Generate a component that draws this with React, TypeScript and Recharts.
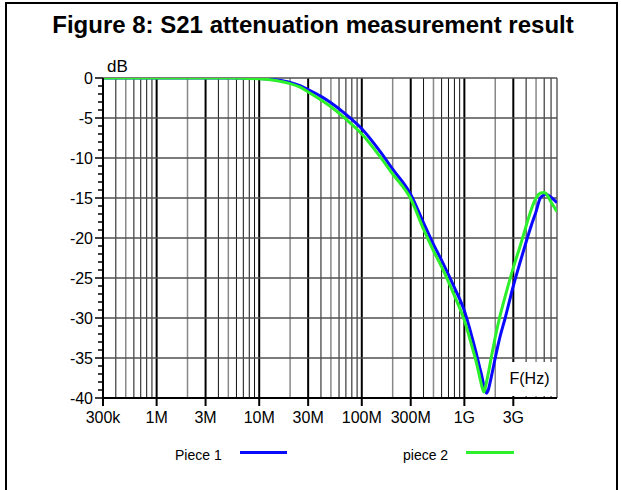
import React from "react";
import { CartesianGrid, Line, LineChart, XAxis, YAxis } from "recharts";

const FREQ = [
  3e5, 1e6, 3e6, 5e6, 1e7, 1.5e7, 2e7, 2.5e7, 3e7, 4e7, 5e7, 7e7, 1e8, 1.5e8, 2e8, 3e8, 4e8, 5e8,
  6e8, 8e8, 1e9, 1.2e9, 1.3e9, 1.4e9, 1.5e9, 1.55e9, 1.6e9, 1.65e9, 1.7e9, 1.8e9, 2e9, 2.2e9,
  2.5e9, 3e9, 3.5e9, 4e9, 4.5e9, 5e9, 5.5e9, 6e9, 6.2e9, 7e9, 8e9,
];
// S21 (dB), "Piece 1" (blue)
const PIECE1 = [
  0, 0, 0, 0, -0.05, -0.25, -0.55, -0.95, -1.45, -2.3, -3.1, -4.55, -6.35, -9.15, -11.4, -14.55,
  -18.1, -20.8, -22.8, -26.2, -29.1, -32.6, -34.3, -36.0, -37.6, -38.5, -39.1, -39.4, -39.1,
  -37.8, -35.0, -32.6, -30.0, -26.0, -23.0, -20.5, -18.4, -16.7, -15.0, -14.6, -14.5, -14.9, -15.6,
];
// S21 (dB), "piece 2" (green)
const PIECE2 = [
  0, 0, 0, 0, -0.1, -0.35, -0.7, -1.15, -1.75, -2.75, -3.6, -5.15, -7.0, -9.8, -12.0, -15.1,
  -18.9, -21.6, -23.6, -27.2, -30.3, -33.8, -35.4, -37.2, -38.8, -39.25, -38.7, -37.9, -37.1,
  -35.4, -32.4, -30.0, -27.3, -23.7, -21.0, -18.5, -16.4, -15.0, -14.4, -14.3, -14.4, -15.5, -16.7,
];

const X_TICKS = [3e5, 1e6, 3e6, 1e7, 3e7, 1e8, 3e8, 1e9, 3e9];
const X_LABELS = ["300k", "1M", "3M", "10M", "30M", "100M", "300M", "1G", "3G"];
const Y_TICKS = Array.from({ length: 41 }, (_, i) => -i);
const Y_GRID = [0, -5, -10, -15, -20, -25, -30, -35];

const X_MIN = 3e5;
const X_MAX = 8e9;

const FONT = '"Liberation Sans", Arial, Helvetica, sans-serif';
const BLUE = "#0a0aff";
const GREEN = "#2cf02c";

const data = FREQ.map((f, i) => ({ f, p1: PIECE1[i], p2: PIECE2[i] }));

// log grid: 1..9 per decade, styled like the original plot
const DECADES = [1e5, 1e6, 1e7, 1e8, 1e9];
const gridAt = (mults: number[]) =>
  DECADES.flatMap((d) => mults.map((m) => m * d)).filter((v) => v > X_MIN && v <= X_MAX);
const GRID_THICK = gridAt([1, 3]);
const GRID_GRAY = gridAt([2, 5]);
const GRID_THIN = gridAt([4, 6, 7, 8, 9]);

function YTick(props: any) {
  const { x, y, payload } = props;
  const v = payload.value as number;
  const major = v % 5 === 0;
  return (
    <g>
      <line x1={x - (major ? 8 : 5)} x2={x} y1={y} y2={y} stroke="#000" strokeWidth={1.5} />
      {major && (
        <text x={x - 10} y={y} dy="0.36em" textAnchor="end" fontSize={16} fill="#000" fontFamily={FONT}>
          {v}
        </text>
      )}
    </g>
  );
}

export default function App() {
  return (
    <div
      style={{
        position: "absolute",
        left: 0,
        top: 0,
        width: 621,
        height: 490,
        background: "#fff",
        overflow: "hidden",
        fontFamily: FONT,
      }}
    >
      <div
        style={{
          position: "absolute",
          left: 5,
          top: 2,
          width: 613,
          height: 500,
          border: "2px solid #000",
          boxSizing: "border-box",
        }}
      />
      <div
        style={{
          position: "absolute",
          left: 0,
          top: 13,
          width: 626,
          textAlign: "center",
          fontSize: 24,
          lineHeight: "24px",
          fontWeight: "bold",
          color: "#000",
        }}
      >
        Figure 8: S21 attenuation measurement result
      </div>

      <div style={{ position: "absolute", left: 0, top: 0 }}>
        <LineChart width={621} height={490} data={data} margin={{ top: 78, right: 64, bottom: 62, left: 43 }}>
          <CartesianGrid horizontal={false} verticalValues={GRID_THIN} stroke="#111" strokeWidth={1} />
          <CartesianGrid horizontal={false} verticalValues={GRID_GRAY} stroke="#888" strokeWidth={1.5} />
          <CartesianGrid horizontal={false} verticalValues={GRID_THICK} stroke="#000" strokeWidth={2} />
          <CartesianGrid vertical={false} horizontalValues={Y_GRID} stroke="#505050" strokeWidth={1.5} />
          <XAxis
            dataKey="f"
            type="number"
            scale="log"
            domain={[X_MIN, X_MAX]}
            allowDataOverflow
            ticks={X_TICKS}
            interval={0}
            tickFormatter={(v: number) => X_LABELS[X_TICKS.indexOf(v)] ?? ""}
            height={30}
            tickSize={8}
            tickMargin={6}
            axisLine={{ stroke: "#000", strokeWidth: 2 }}
            tickLine={{ stroke: "#000", strokeWidth: 2 }}
            tick={{ fill: "#000", fontSize: 16, fontFamily: FONT }}
          />
          <YAxis
            type="number"
            domain={[-40, 0]}
            allowDataOverflow
            ticks={Y_TICKS}
            interval={0}
            width={60}
            tickSize={0}
            tickMargin={0}
            tickLine={false}
            axisLine={{ stroke: "#000", strokeWidth: 2 }}
            tick={<YTick />}
          />
          <Line type="monotone" dataKey="p1" stroke={BLUE} strokeWidth={3} dot={false} isAnimationActive={false} />
          <Line type="monotone" dataKey="p2" stroke={GREEN} strokeWidth={3} dot={false} isAnimationActive={false} />
        </LineChart>
      </div>

      <div style={{ position: "absolute", left: 107, top: 58, fontSize: 17, lineHeight: "17px", color: "#000" }}>
        dB
      </div>
      <div
        style={{
          position: "absolute",
          left: 507,
          top: 362,
          width: 45,
          height: 34,
          background: "#fff",
          textAlign: "center",
          fontSize: 16,
          lineHeight: "34px",
          color: "#000",
        }}
      >
        F(Hz)
      </div>

      <div style={{ position: "absolute", left: 175, top: 445, fontSize: 14, lineHeight: "20px", color: "#000" }}>
        Piece 1
      </div>
      <div style={{ position: "absolute", left: 240, top: 451, width: 47, height: 3, background: BLUE }} />
      <div style={{ position: "absolute", left: 403, top: 445, fontSize: 14, lineHeight: "20px", color: "#000" }}>
        piece 2
      </div>
      <div style={{ position: "absolute", left: 466, top: 451, width: 48, height: 3, background: GREEN }} />
    </div>
  );
}
